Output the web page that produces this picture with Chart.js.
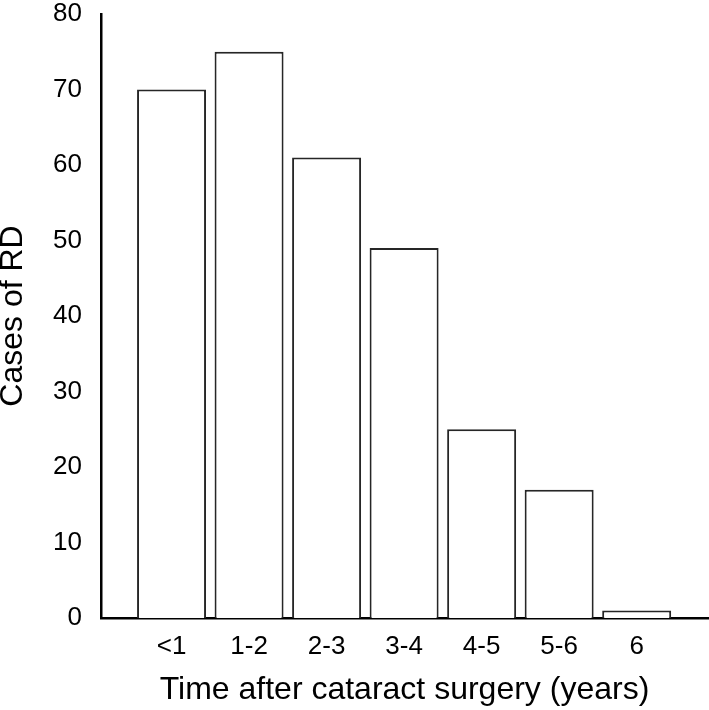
<!DOCTYPE html>
<html>
<head>
<meta charset="utf-8">
<script src="https://cdn.jsdelivr.net/npm/chart.js@4"></script>
<style>
  html, body { margin: 0; padding: 0; background: #fff; }
  #wrap { width: 709px; height: 710px; position: relative; }
</style>
</head>
<body>
<div id="wrap"><canvas id="c"></canvas></div>
<script>
const categories = ['<1', '1-2', '2-3', '3-4', '4-5', '5-6', '6'];
const cases = [70, 75, 61, 49, 25, 17, 1];
const yTicks = [0, 10, 20, 30, 40, 50, 60, 70, 80];
const xTitle = 'Time after cataract surgery (years)';
const yTitle = 'Cases of RD';

const FONT = '"Liberation Sans", Arial, Helvetica, sans-serif';

new Chart(document.getElementById('c'), {
  type: 'bar',
  data: {
    datasets: [{
      data: categories.map((c, i) => ({ x: i, y: cases[i] })),
      backgroundColor: '#ffffff',
      borderColor: '#262626',
      borderWidth: 2,
      barPercentage: 0.89,
      categoryPercentage: 1
    }]
  },
  options: {
    responsive: true,
    maintainAspectRatio: false,
    animation: false,
    layout: { padding: { left: 0, right: 1, top: 0, bottom: 0 } },
    plugins: { legend: { display: false }, tooltip: { enabled: false } },
    scales: {
      x: {
        type: 'linear',
        offset: false,
        min: -0.91,
        max: 6.92,
        grid: { display: false, drawTicks: false, offset: false },
        border: { display: true, color: '#000', width: 2.5 },
        afterBuildTicks: (scale) => { scale.ticks = categories.map((c, i) => ({ value: i })); },
        afterFit: (scale) => { scale.height = 92; scale.paddingLeft = 0; scale.paddingRight = 0; },
        ticks: {
          autoSkip: false,
          maxRotation: 0,
          padding: 13,
          color: '#000',
          font: { family: FONT, size: 26 },
          callback: (v) => categories[v]
        },
        title: {
          display: true,
          text: xTitle,
          color: '#000',
          font: { family: FONT, size: 32, lineHeight: 1 },
          padding: { top: 10, bottom: 4 }
        }
      },
      y: {
        min: 0,
        max: 80,
        grid: { display: false, drawTicks: false },
        border: { display: true, color: '#000', width: 2.5 },
        afterBuildTicks: (scale) => { scale.ticks = yTicks.map(v => ({ value: v })); },
        afterFit: (scale) => { scale.width = 101; scale.paddingTop = 14; scale.paddingBottom = 0; },
        ticks: {
          padding: 19,
          color: '#000',
          font: { family: FONT, size: 26 }
        },
        title: {
          display: true,
          text: yTitle,
          color: '#000',
          font: { family: FONT, size: 32, lineHeight: 1 },
          padding: { top: -3, bottom: 6 }
        }
      }
    }
  }
});
</script>
</body>
</html>
